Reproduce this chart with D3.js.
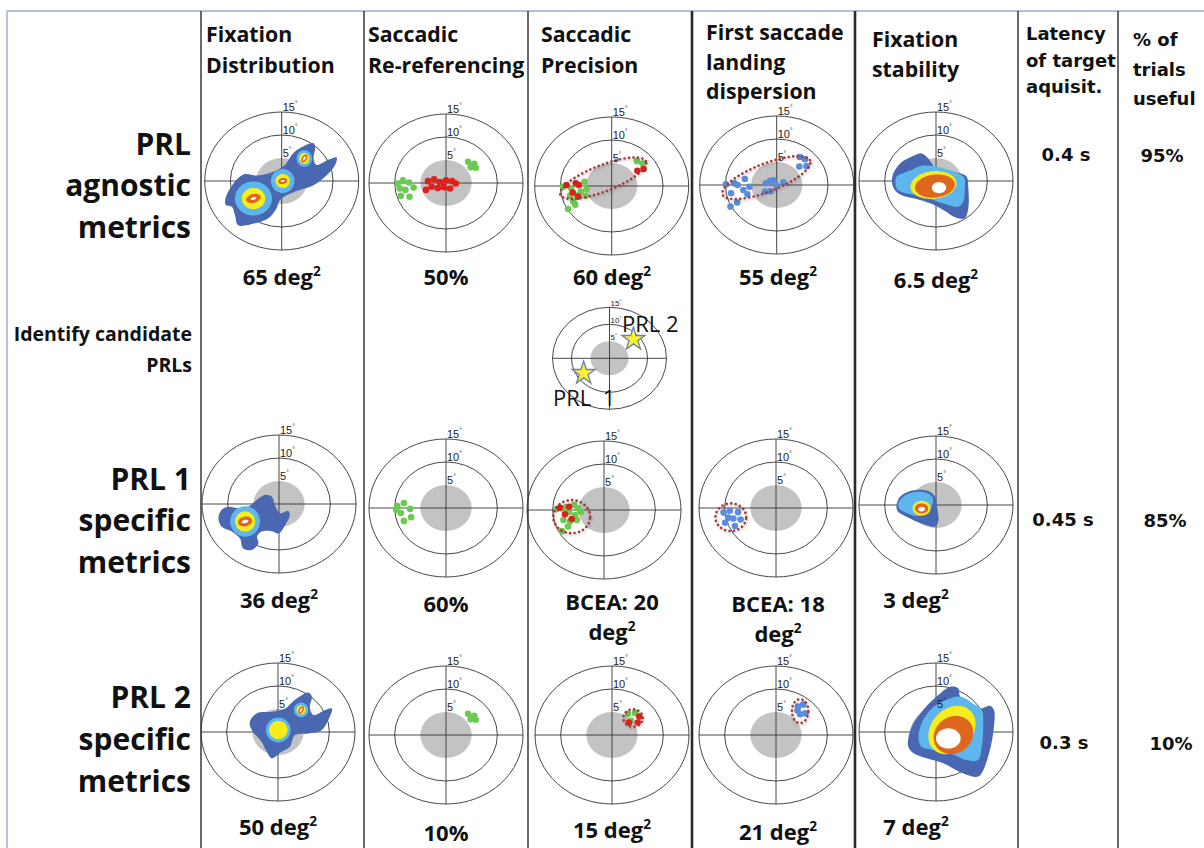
<!DOCTYPE html>
<html>
<head>
<meta charset="utf-8">
<script src="https://cdn.jsdelivr.net/npm/d3@7"></script>
<style>
  html, body { margin: 0; padding: 0; background: #fff; }
  svg { display: block; }
  .hdr { font-family: "Open Sans", sans-serif; font-weight: 700; fill: #111; }
  .hdr2 { font-family: "DejaVu Sans", sans-serif; font-weight: 700; fill: #111; }
  .tick { font-family: "Liberation Sans", Arial, sans-serif; fill: #222; }
</style>
</head>
<body>
<svg id="chart" width="1204" height="848"></svg>
<script>
// ---------------- data ----------------
const columnTitles = [
  ["Fixation", "Distribution"],
  ["Saccadic", "Re-referencing"],
  ["Saccadic", "Precision"],
  ["First saccade", "landing", "dispersion"],
  ["Fixation", "stability"],
  ["Latency", "of target", "aquisit."],
  ["% of", "trials", "useful"]
];
const rowLabels = [
  ["PRL", "agnostic", "metrics"],
  ["PRL 1", "specific", "metrics"],
  ["PRL 2", "specific", "metrics"]
];
const candidateLabel = ["Identify candidate", "PRLs"];

const ringDegrees = [15, 10];          // drawn rings
const tickDegrees = [15, 10, 5];       // eccentricity labels
const scotomaRadius = 5;

const fixationAreas = [65, 36, 50];        // deg^2
const rereferencingPct = [50, 60, 10];     // %
const precisionBCEA = [60, 20, 15];        // deg^2
const landingBCEA = [55, 18, 21];          // deg^2
const stabilityAreas = [6.5, 3, 7];        // deg^2
const latencySec = [0.4, 0.45, 0.3];       // s
const usefulTrialsPct = [95, 85, 10];      // %

const candidatePRLs = [
  { name: "PRL 2", x: 6.3, y: 5.6 },
  { name: "PRL  1", x: -6.8, y: -4.4 }
];

// fixation density maps: outer contour (deg) and nested peaks [color, cx, cy, a, b, rot]
const fixDistOutlines = [
  [[-11.0,-4.1],[-10.4,-2.3],[-8.5,0.6],[-7.1,1.5],[-4.9,1.2],[-1.9,1.9],[0.6,3.5],[2.6,6.4],[6.2,8.2],[6.5,7.1],[6.2,4.9],[6.8,3.5],[9.1,4.6],[10.7,5.1],[10.4,3.5],[8.8,1.3],[6.2,-0.9],[2.6,-2.3],[-0.3,-4.1],[-1.0,-5.9],[-2.6,-8.1],[-5.2,-9.2],[-8.5,-9.6],[-9.1,-7.4],[-9.7,-5.6],[-10.9,-5.2]],
  [[-11.8,-3.1],[-11.2,-1.3],[-9.9,-0.6],[-7.9,-0.9],[-6.0,-0.6],[-4.3,0.9],[-2.7,2.0],[-1.4,1.6],[-0.8,-0.2],[0.2,-2.0],[1.8,-1.5],[2.1,-2.4],[1.2,-4.6],[-0.1,-6.4],[-1.4,-5.9],[-3.4,-6.0],[-4.3,-7.1],[-4.0,-8.5],[-5.3,-10.0],[-7.0,-9.6],[-7.6,-7.5],[-9.2,-6.0],[-11.2,-4.9]],
  [[-5.5,2.2],[-4.1,4.1],[-1.2,4.4],[1.4,5.1],[3.3,7.0],[5.9,8.6],[6.6,7.7],[6.2,5.5],[6.9,3.7],[9.2,4.8],[10.5,5.1],[9.8,2.6],[8.5,0.4],[5.9,-0.3],[3.3,-0.65],[2.7,-2.1],[2.3,-3.2],[0.7,-4.3],[-1.2,-5.7],[-2.2,-4.3],[-3.2,-2.1],[-5.1,0.4]]
];
const fixDistPeaks = [
  [
    ["light",-5.5,-3.8,3.6,3.7,0],["yellow",-5.5,-3.8,2.3,2.3,0],["orange",-5.5,-3.8,1.45,0.95,20],["white",-5.5,-3.8,0.55,0.3,20],
    ["light",0.2,0.0,2.3,2.6,0],["yellow",0.2,0.0,1.4,1.5,0],["orange",0.2,0.0,0.9,0.65,15],["white",0.2,0.0,0.4,0.22,15],
    ["light",4.4,4.9,1.5,1.8,0],["yellow",4.4,4.9,1.0,1.2,0],["orange",4.4,4.9,0.95,0.5,65],["white",4.4,4.9,0.55,0.18,65]
  ],
  [
    ["light",-6.6,-3.8,2.9,3.3,0],["yellow",-6.6,-3.8,1.95,2.2,0],["orange",-6.6,-3.8,1.4,1.05,15],["white",-6.6,-3.8,0.65,0.35,15]
  ],
  [
    ["light",0.06,0.43,2.4,2.7,0],["yellow",0.06,0.43,1.8,2.0,0],
    ["light",4.5,4.8,1.4,1.6,0],["yellow",4.5,4.8,0.9,1.0,0],["orange",4.5,4.8,0.9,0.45,65],["white",4.5,4.8,0.55,0.15,65]
  ]
];

// fixation stability maps: outer contour, second contour, inner peaks
const stabilityOutlines = [
  [[-8.3,1.7],[-7.0,3.8],[-4.7,5.3],[-2.8,6.0],[-1.5,4.9],[-0.8,3.8],[0.1,2.6],[2.7,2.0],[5.0,1.6],[6.0,0.9],[6.3,-1.6],[6.3,-5.9],[5.6,-8.1],[4.0,-8.0],[1.4,-6.3],[-1.2,-4.8],[-3.8,-3.9],[-6.4,-3.2],[-8.0,-2.0],[-8.6,-0.1]],
  [[-7.7,0.0],[-7.0,1.8],[-5.4,2.9],[-3.1,3.3],[-1.2,2.9],[-0.2,1.8],[0.25,-0.7],[0.45,-3.6],[-0.2,-4.7],[-2.1,-4.3],[-4.4,-3.3],[-6.4,-2.2],[-7.5,-1.3]],
  [[-5.4,-1.4],[-4.7,1.2],[-2.8,4.4],[0.1,7.7],[2.7,9.8],[4.3,9.5],[4.7,7.7],[6.6,5.9],[8.6,5.1],[10.5,5.7],[11.3,4.8],[11.2,0.4],[10.5,-3.9],[9.2,-8.3],[8.2,-9.7],[5.3,-9.0],[1.4,-6.8],[-1.8,-5.7],[-4.4,-4.6],[-5.4,-3.2]]
];
const stabilityInner = [
  [[-7.7,0.9],[-6.4,1.7],[-4.7,2.4],[-2.8,3.3],[-0.8,3.3],[1.8,2.6],[4.3,1.7],[5.5,0.7],[5.6,-2.0],[5.3,-4.5],[4.3,-5.6],[2.1,-5.1],[-1.2,-3.9],[-4.1,-3.0],[-6.4,-2.5],[-7.7,-1.5]],
  [[-7.4,0.2],[-6.6,1.6],[-5.0,2.6],[-3.2,2.9],[-1.5,2.5],[-0.6,1.4],[-0.9,-0.4],[-2.0,-1.9],[-3.8,-2.4],[-5.6,-1.8],[-7.0,-1.0]],
  [[-3.4,-1.4],[-2.8,1.9],[-0.8,5.1],[2.1,7.0],[4.7,7.7],[7.6,5.9],[8.9,4.8],[9.2,1.2],[8.9,-3.2],[8.2,-6.1],[6.0,-6.1],[2.7,-4.6],[-0.5,-3.9],[-2.8,-3.2]]
];
const stabilityPeaks = [
  [["yellow",-0.5,-0.87,4.5,3.0,8],["orange",-0.2,-1.1,3.9,2.5,8],["white",0.58,-1.45,1.4,1.2,0]],
  [["yellow",-2.8,-0.7,1.75,1.6,0],["orange",-2.8,-0.75,1.3,1.1,0],["white",-2.8,-0.9,0.65,0.5,10]],
  [["yellow",3.1,0.43,5.6,4.2,60],["orange",3.4,-0.65,4.3,3.7,60],["white",2.4,-1.4,2.4,2.2,0]]
];

// saccade landing points (deg)
const rerefGreen = [
  [[-9.4,-0.1],[-8.4,0.6],[-7.2,0.1],[-9.0,-1.2],[-7.9,-1.5],[-8.8,-2.8],[-7.1,-3.0],[-6.3,-1.0],[4.3,4.6],[5.5,4.2],[4.8,3.4],[5.8,3.3]],
  [[-9.5,0.4],[-8.2,1.1],[-7.0,-0.2],[-8.8,-1.1],[-6.8,-2.0],[-8.2,-2.8],[-9.7,-0.4]],
  [[4.3,4.6],[5.5,4.2],[4.8,3.4],[5.8,3.3]]
];
const rerefRed = [
  [[-3.5,0.4],[-2.3,0.8],[-1.2,0.2],[0.0,0.6],[1.2,0.4],[1.9,-0.1],[-2.8,-0.8],[-1.6,-1.1],[-0.4,-0.9],[0.8,-1.2],[-3.9,-1.5]],
  [],
  []
];
const precisionGreen = [
  [[-9.5,-0.15],[-7.9,-0.5],[-5.3,0.9],[-4.9,-0.65],[-6.0,-1.2],[-8.1,-2.1],[-6.8,-2.1],[-5.1,-2.1],[-7.1,-4.1],[-8.5,-5.0],[-7.5,-3.3],[4.9,5.4],[6.0,4.9]],
  [[-9.2,0.2],[-8.2,0.36],[-7.3,0.65],[-5.8,1.1],[-5.1,0.36],[-4.5,-0.36],[-5.6,-1.1],[-6.8,-0.5],[-7.9,-2.2],[-6.6,-2.5],[-5.3,-2.2],[-7.0,-3.6],[-8.2,-4.6]],
  [[3.1,4.6],[4.5,4.8],[3.7,3.1]]
];
const precisionRed = [
  [[-8.8,0.2],[-7.0,0.6],[-6.4,0.2],[-7.6,-1.4],[-6.5,-2.3],[5.0,3.3],[6.2,3.7]],
  [[-8.6,0.5],[-6.8,0.7],[-7.6,-0.95],[-6.3,-1.95]],
  [[3.3,2.7],[5.0,2.7],[5.3,4.0]]
];
const landingBlue = [
  [[-9.9,0.15],[-8.3,0.36],[-7.6,0.0],[-6.2,1.3],[-5.3,-0.4],[-6.5,-1.1],[-8.9,-1.8],[-5.7,-2.0],[-7.7,-3.8],[-9.0,-4.7],[-2.1,0.36],[-1.3,0.87],[-0.65,1.0],[-0.13,0.0],[1.3,0.6],[-2.3,-1.4],[-1.2,-1.3],[4.5,6.1],[5.5,5.6],[5.8,4.1],[4.4,4.0]],
  [[-10.2,-1.0],[-9.0,-0.6],[-7.4,-0.9],[-8.3,-2.3],[-6.9,-2.5],[-9.9,-3.2],[-8.0,-3.9],[-9.3,-2.1]],
  [[4.3,6.2],[5.3,6.6],[4.7,4.5],[5.7,4.7],[4.2,5.3]]
];
// BCEA contours (deg): centre, semi-axes, orientation
const precisionEllipses = [
  { cx: -1.65, cy: 1.7, a: 9.1, b: 2.8, rot: 24 },
  { cx: -6.3, cy: -1.45, a: 3.6, b: 3.6, rot: 0 },
  { cx: 4.1, cy: 3.7, a: 1.9, b: 1.9, rot: 0 }
];
const landingEllipses = [
  { cx: -2.0, cy: 1.6, a: 9.3, b: 3.0, rot: 24 },
  { cx: -8.8, cy: -2.0, a: 3.0, b: 3.0, rot: 0 },
  { cx: 4.7, cy: 5.2, a: 1.6, b: 2.6, rot: 0 }
];

// ---------------- layout & style ----------------
const heatColor = { dark: "#4a67b2", light: "#5db7ee", yellow: "#f6ee1c", orange: "#df671d", white: "#ffffff" };
const dotColor = { red: "#e01f1b", green: "#6dca50", blue: "#5b8ddd" };
const bceaColor = "#a8393b";

const dividerX = [201, 364, 528, 692, 855, 1018, 1118];
const dividerW = [1.4, 1.4, 1.4, 2.6, 2.6, 1.4, 1.4];
const headerX = [206, 368, 541, 706, 872, 1026, 1133];
const headerBase = [[42, 73], [42, 73], [42, 73], [40, 70, 99], [47, 77], [40, 67, 93], [46, 76, 105]];
const rowLabelBase = [[155, 196, 238], [490, 531, 573], [708, 750, 792]];
const plotCenters = [
  [[281.7, 181], [446, 183], [611.7, 186], [776.7, 185], [936, 181]],
  [[279, 504], [446, 508], [604, 510], [776, 508], [936, 505]],
  [[278, 732], [446, 735], [612, 735], [776, 735], [936, 732]]
];
const RX = 77, RY = 69;

const svg = d3.select("#chart");

// table frame
svg.append("line").attr("x1", 7).attr("x2", 1204).attr("y1", 11).attr("y2", 11)
  .attr("stroke", "#9cadd0").attr("stroke-width", 1.4);
svg.append("line").attr("x1", 7).attr("x2", 7).attr("y1", 11).attr("y2", 848)
  .attr("stroke", "#9cadd0").attr("stroke-width", 1.4);
svg.selectAll("line.div").data(dividerX).join("line").attr("class", "div")
  .attr("x1", d => d).attr("x2", d => d).attr("y1", 11).attr("y2", 848)
  .attr("stroke", "#2a2a2a").attr("stroke-width", (d, i) => dividerW[i]);

// column headers
columnTitles.forEach((lines, c) => {
  const t = svg.append("text").attr("class", c >= 5 ? "hdr2" : "hdr")
    .style("font-size", c >= 5 ? "18px" : "21.3px");
  lines.forEach((s, k) => t.append("tspan").attr("x", headerX[c]).attr("y", headerBase[c][k]).text(s));
});

// row headers
rowLabels.forEach((lines, r) => {
  const t = svg.append("text").attr("class", "hdr").attr("text-anchor", "end").style("font-size", "30px");
  lines.forEach((s, k) => t.append("tspan").attr("x", 191).attr("y", rowLabelBase[r][k]).text(s));
});
{
  const t = svg.append("text").attr("class", "hdr").attr("text-anchor", "end").style("font-size", "19.5px");
  t.append("tspan").attr("x", 192).attr("y", 341).text(candidateLabel[0]);
  t.append("tspan").attr("x", 192).attr("y", 372).text(candidateLabel[1]);
}

// polar eccentricity frame; returns scales and a label drawer
function polarFrame(cx, cy, rx, ry, fontSize) {
  const g = svg.append("g");
  const x = d3.scaleLinear().domain([-15, 15]).range([cx - rx, cx + rx]);
  const y = d3.scaleLinear().domain([-15, 15]).range([cy + ry, cy - ry]);
  g.append("ellipse").attr("cx", x(0)).attr("cy", y(0))
    .attr("rx", x(scotomaRadius) - x(0)).attr("ry", y(0) - y(scotomaRadius)).attr("fill", "#c3c3c3");
  g.selectAll("ellipse.ring").data(ringDegrees).join("ellipse").attr("class", "ring")
    .attr("cx", x(0)).attr("cy", y(0)).attr("rx", d => x(d) - x(0)).attr("ry", d => y(0) - y(d))
    .attr("fill", "none").attr("stroke", "#333").attr("stroke-width", 0.9);
  g.append("line").attr("x1", x(-15)).attr("x2", x(15)).attr("y1", y(0)).attr("y2", y(0))
    .attr("stroke", "#333").attr("stroke-width", 0.9);
  g.append("line").attr("x1", x(0)).attr("x2", x(0)).attr("y1", y(15)).attr("y2", y(-15))
    .attr("stroke", "#333").attr("stroke-width", 0.9);
  const marks = svg.append("g");
  function labels() {
    const lg = svg.append("g");
    tickDegrees.forEach(d => {
      const t = lg.append("text").attr("class", "tick").attr("x", x(0) + 1).attr("y", y(d) - 1.2)
        .style("font-size", fontSize + "px").text(d);
      t.append("tspan").attr("dy", -fontSize * 0.45).style("font-size", (fontSize * 0.6) + "px").text("°");
    });
  }
  return { x, y, g: marks, labels };
}

function ellipsePoints(cx, cy, a, b, rot) {
  const t = rot * Math.PI / 180;
  return d3.range(72).map(i => {
    const ang = 2 * Math.PI * i / 72, u = a * Math.cos(ang), v = b * Math.sin(ang);
    return [cx + u * Math.cos(t) - v * Math.sin(t), cy + u * Math.sin(t) + v * Math.cos(t)];
  });
}

function drawBlob(p, pts, fill) {
  const line = d3.line().x(d => p.x(d[0])).y(d => p.y(d[1])).curve(d3.curveCatmullRomClosed.alpha(0.5));
  p.g.append("path").attr("d", line(pts)).attr("fill", fill);
}
function drawPeaks(p, peaks) {
  const line = d3.line().x(d => p.x(d[0])).y(d => p.y(d[1])).curve(d3.curveLinearClosed);
  p.g.selectAll(null).data(peaks).join("path")
    .attr("d", d => line(ellipsePoints(d[1], d[2], d[3], d[4], d[5])))
    .attr("fill", d => heatColor[d[0]]);
}
function drawDots(p, pts, color) {
  p.g.selectAll(null).data(pts).join("circle")
    .attr("cx", d => p.x(d[0])).attr("cy", d => p.y(d[1])).attr("r", 3.3).attr("fill", color);
}
function drawBCEA(p, e) {
  const line = d3.line().x(d => p.x(d[0])).y(d => p.y(d[1])).curve(d3.curveLinearClosed);
  const d = line(ellipsePoints(e.cx, e.cy, e.a, e.b, e.rot));
  p.g.append("path").attr("d", d).attr("fill", "none").attr("stroke", "#000").attr("stroke-opacity", 0.18)
    .attr("stroke-width", 3.2).attr("stroke-dasharray", "0.1 4.4").attr("stroke-linecap", "round")
    .attr("transform", "translate(0.8,1.6)").attr("filter", "url(#soft)");
  p.g.append("path").attr("d", d).attr("fill", "none").attr("stroke", bceaColor)
    .attr("stroke-width", 2.6).attr("stroke-dasharray", "0.1 4.4").attr("stroke-linecap", "round");
}

svg.append("defs").append("filter").attr("id", "soft").append("feGaussianBlur").attr("stdDeviation", 0.9);

// metric label helper: value text with optional squared-degree unit
function metricLabel(x, y, txt, unit, size) {
  const t = svg.append("text").attr("class", "hdr").attr("text-anchor", "middle")
    .attr("x", x).attr("y", y).style("font-size", size + "px").text(txt);
  if (unit) t.append("tspan").attr("dy", -size * 0.42).style("font-size", (size * 0.62) + "px").text("2");
  return t;
}

const labelBase = [285, 608, 835];

for (let r = 0; r < 3; r++) {
  const c = plotCenters[r];
  // fixation distribution
  let p = polarFrame(c[0][0], c[0][1], RX, RY, 11);
  drawBlob(p, fixDistOutlines[r], heatColor.dark);
  drawPeaks(p, fixDistPeaks[r]);
  p.labels();
  metricLabel(c[0][0], labelBase[r], fixationAreas[r] + " deg", true, 22);

  // saccadic re-referencing
  p = polarFrame(c[1][0], c[1][1], RX, RY, 11);
  drawDots(p, rerefGreen[r], dotColor.green);
  drawDots(p, rerefRed[r], dotColor.red);
  p.labels();
  metricLabel(c[1][0], labelBase[r] + [0, 4, 6][r], rereferencingPct[r] + "%", false, 22);

  // saccadic precision
  p = polarFrame(c[2][0], c[2][1], RX, RY, 11);
  drawDots(p, precisionGreen[r], dotColor.green);
  drawDots(p, precisionRed[r], dotColor.red);
  drawBCEA(p, precisionEllipses[r]);
  p.labels();
  if (r === 1) {
    metricLabel(612, 610, "BCEA: " + precisionBCEA[r], false, 22);
    metricLabel(612, 640, "deg", true, 22);
  } else {
    metricLabel(612, labelBase[r] + [0, 0, 3][r], precisionBCEA[r] + " deg", true, 22);
  }

  // first saccade landing dispersion
  p = polarFrame(c[3][0], c[3][1], RX, RY, 11);
  drawDots(p, landingBlue[r], dotColor.blue);
  drawBCEA(p, landingEllipses[r]);
  p.labels();
  if (r === 1) {
    metricLabel(778, 612, "BCEA: " + landingBCEA[r], false, 22);
    metricLabel(778, 642, "deg", true, 22);
  } else {
    metricLabel(778, labelBase[r] + [0, 0, 5][r], landingBCEA[r] + " deg", true, 22);
  }

  // fixation stability
  p = polarFrame(c[4][0], c[4][1], RX, RY, 11);
  drawBlob(p, stabilityOutlines[r], heatColor.dark);
  drawBlob(p, stabilityInner[r], heatColor.light);
  drawPeaks(p, stabilityPeaks[r]);
  p.labels();
  metricLabel([936, 916, 916][r], labelBase[r] + [3, 0, 0][r], stabilityAreas[r] + " deg", true, 22);

  // latency and useful trials
  const ly = [161, 526, 749][r];
  svg.append("text").attr("class", "hdr2").attr("text-anchor", "middle").attr("x", [1066, 1063, 1064][r])
    .attr("y", ly).style("font-size", "18px").text(latencySec[r] + " s");
  svg.append("text").attr("class", "hdr2").attr("text-anchor", "middle").attr("x", [1162, 1165, 1171][r])
    .attr("y", ly + 1).style("font-size", "18px").text(usefulTrialsPct[r] + "%");
}

// candidate PRL map
{
  const p = polarFrame(609.5, 358.3, 57, 51, 8);
  const star = d3.symbol().type(d3.symbolStar).size(165);
  p.labels();
  p.g.raise();
  p.g.selectAll(null).data(candidatePRLs).join("path")
    .attr("d", star).attr("transform", d => `translate(${p.x(d.x)},${p.y(d.y)})`)
    .attr("fill", "#f8f22e").attr("stroke", "#6b7fb8").attr("stroke-width", 1.3);
  svg.append("text").attr("x", 622).attr("y", 332).style("font-family", "'Open Sans', sans-serif")
    .style("font-size", "22px").attr("fill", "#111").text(candidatePRLs[0].name);
  svg.append("text").attr("x", 553).attr("y", 406).style("font-family", "'Open Sans', sans-serif")
    .style("font-size", "22px").style("white-space", "pre").attr("fill", "#111").text(candidatePRLs[1].name);
}
</script>
</body>
</html>
